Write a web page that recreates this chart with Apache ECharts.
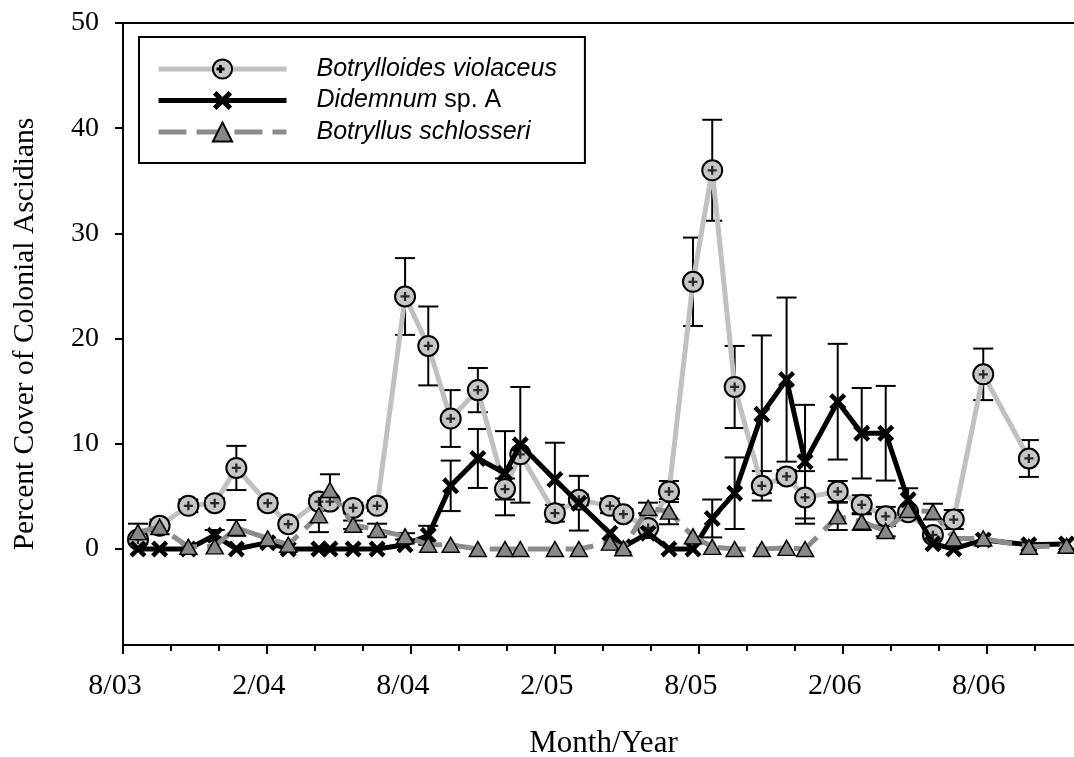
<!DOCTYPE html>
<html><head><meta charset="utf-8">
<script src="https://cdn.jsdelivr.net/npm/echarts@6/dist/echarts.min.js"></script>
<style>html,body{margin:0;padding:0;background:#fff}#c{width:1074px;height:757px}</style>
</head><body><div id="c"></div>
<script>
// Sampling dates (x positions)
const sampleDates = ['2003-08-20','2003-09-17','2003-10-23','2003-11-26','2003-12-23','2004-02-02','2004-02-28','2004-04-06','2004-04-20','2004-05-19','2004-06-19','2004-07-24','2004-08-23','2004-09-21','2004-10-25','2004-11-29','2004-12-18','2005-02-01','2005-03-01','2005-04-10','2005-04-27','2005-05-28','2005-06-24','2005-07-24','2005-08-18','2005-09-16','2005-10-20','2005-11-21','2005-12-14','2006-01-25','2006-02-25','2006-03-25','2006-04-23','2006-05-24','2006-06-20','2006-07-27','2006-09-24','2006-11-11'];
// Percent cover
const botrylloides    = [0.9,2.2,4.1,4.35,7.7,4.35,2.35,4.5,4.5,3.9,4.1,24.0,19.3,12.4,15.1,5.7,9.0,3.4,4.67,4.1,3.3,2.0,5.46,25.4,36.0,15.4,6.0,6.9,4.9,5.46,4.2,3.1,3.5,1.33,2.8,16.6,8.6,null];
const botrylloidesErr = [0.4,0.3,0.6,0.5,2.1,0.5,0.4,0.6,0,0.5,0.5,3.65,3.75,2.7,2.1,1.0,0,0.8,0.5,0.7,0.5,0,1.0,4.2,4.8,3.9,1.4,0.6,2.5,1.0,0.9,0.9,0,0,0.9,2.45,1.75,0];
const didemnum        = [0,0,0,1.3,0,0.6,0,0,0,0,0,0.4,1.3,6.0,8.6,7.2,9.9,6.6,4.35,1.5,0.2,1.5,0,0,2.9,5.3,12.8,16.1,8.3,14.0,11.0,11.0,4.67,0.5,0,0.86,0.4,0.48];
const didemnumErr     = [0,0,0,0.5,0,0,0,0,0,0,0,0,0.9,2.4,2.8,4.0,5.5,3.5,2.6,0,0,0,0,0,1.8,3.4,7.5,7.8,5.4,5.5,4.3,4.5,1.1,0,0,0,0,0];
const botryllus       = [1.6,2.1,0.2,0.25,2.0,1.0,0.4,3.2,5.6,2.3,1.8,1.2,0.4,0.4,0,0,0,0,0,0.6,0.07,3.9,3.55,1.2,0.2,0,0,0.1,0,3.1,2.6,1.7,3.7,3.55,1.0,1.0,0.2,0.3];
const botryllusErr    = [0.8,0.7,0,0,0.75,0,0,1.6,1.5,0.4,0.6,0.3,0,0,0,0,0,0,0,0,0,0.5,1.2,0,0,0,0,0,0,1.3,0.8,0.5,0,0.75,0,0,0,0];
// Axis labels
const xTickLabels = ['8/03','2/04','8/04','2/05','8/05','2/06','8/06'];
const yTicks = [0,10,20,30,40,50];
const seriesNames = ['Botrylloides violaceus','Didemnum sp. A','Botryllus schlosseri'];

function toMonths(s){const p=s.split('-').map(Number);return (p[0]-2003)*12+(p[1]-8)+(p[2]-1)/30.4;}
const xs = sampleDates.map(toMonths);
function pts(vals){const out=[];vals.forEach((v,i)=>{if(v!==null)out.push([xs[i],v]);});return out;}
function errPts(vals,errs){const out=[];vals.forEach((v,i)=>{if(v!==null&&errs[i]>0)out.push([xs[i],v,errs[i]]);});return out;}
function errRender(params, api){
  const x=api.value(0),v=api.value(1),e=api.value(2);
  const t=api.coord([x,v+e]),b=api.coord([x,v-e]);const hw=10;
  const st={stroke:'#000',lineWidth:2};
  return {type:'group',children:[
    {type:'line',shape:{x1:t[0],y1:t[1],x2:b[0],y2:b[1]},style:st},
    {type:'line',shape:{x1:t[0]-hw,y1:t[1],x2:t[0]+hw,y2:t[1]},style:st},
    {type:'line',shape:{x1:b[0]-hw,y1:b[1],x2:b[0]+hw,y2:b[1]},style:st}
  ]};
}
const XMAX = (1074-122.7)/24.0;
const majorTicks = xTickLabels.map((_,i)=>i*6);
const minorTicks = []; for(let m=2;m<XMAX;m+=2){ if(m%6!==0) minorTicks.push(m); }
const plusPath = 'path://M3,0H5V3H8V5H5V8H3V5H0V3H3Z';
const xPath = 'path://M0,3L3,0L8,5L13,0L16,3L11,8L16,13L13,16L8,11L3,16L0,13L5,8Z';
const serif = 'Liberation Serif';

const chart = echarts.init(document.getElementById('c'), null, {renderer:'canvas'});
chart.setOption({
  animation:false,
  backgroundColor:'#fff',
  grid:{left:123,top:23,right:0,bottom:112,containLabel:false,outerBoundsMode:'none'},
  xAxis:[
    {type:'value',min:0,max:XMAX,position:'bottom',
     axisLine:{show:true,onZero:false,lineStyle:{color:'#000',width:2}},
     axisTick:{show:true,customValues:majorTicks,length:9,lineStyle:{color:'#000',width:2}},
     axisLabel:{show:true,customValues:majorTicks,formatter:v=>xTickLabels[Math.round(v/6)]||'',
       fontFamily:serif,fontSize:30,color:'#000',margin:26,padding:[0,16,0,0]},
     splitLine:{show:false},
     name:'Month/Year',nameLocation:'middle',nameGap:83,
     nameTextStyle:{fontFamily:serif,fontSize:31,color:'#000',padding:[0,0,0,10]}},
    {type:'value',min:0,max:XMAX,position:'bottom',
     axisLine:{show:false,onZero:false},axisLabel:{show:false},splitLine:{show:false},
     axisTick:{show:true,customValues:minorTicks,length:6,lineStyle:{color:'#000',width:2}}},
    {type:'value',min:0,max:XMAX,position:'top',
     axisLine:{show:true,onZero:false,lineStyle:{color:'#000',width:2}},axisLabel:{show:false},axisTick:{show:false},splitLine:{show:false}}
  ],
  yAxis:{type:'value',min:-9.13,max:50,
    axisLine:{show:true,onZero:false,lineStyle:{color:'#000',width:2}},
    axisTick:{show:true,customValues:yTicks,length:8,lineStyle:{color:'#000',width:2}},
    axisLabel:{show:true,customValues:yTicks,fontFamily:serif,fontSize:28,color:'#000',margin:24},
    splitLine:{show:false},
    name:'Percent Cover of Colonial Ascidians',nameLocation:'middle',nameGap:83,nameRotate:90,
    nameTextStyle:{fontFamily:serif,fontSize:29.5,color:'#000'}},
  legend:{
    data:seriesNames,orient:'vertical',left:139,top:37,
    itemWidth:128,itemHeight:24,itemGap:3.5,
    borderColor:'#000',borderWidth:2,padding:[18,28,17,17],
    lineStyle:{width:'inherit',type:'inherit'},
    formatter:function(n){ if(n==='Didemnum sp. A') return '{i|Didemnum} {n|sp. A}'; return '{i|'+n+'}'; },
    textStyle:{fontFamily:'Liberation Sans',fontSize:25,color:'#000',lineHeight:28,padding:[0,0,0,25],
      rich:{i:{fontFamily:'Liberation Sans',fontStyle:'italic',fontSize:25,color:'#000'},
            n:{fontFamily:'Liberation Sans',fontStyle:'normal',fontSize:25,color:'#000'}}}
  },
  graphic:[
    {type:'rect',shape:{x:216.5,y:67.5,width:8,height:3},style:{fill:'#000'},z:100},
    {type:'rect',shape:{x:219,y:65,width:3,height:8},style:{fill:'#000'},z:100}
  ],
  series:[
    {type:'custom',name:'errBv',renderItem:errRender,data:errPts(botrylloides,botrylloidesErr),z:1,silent:true},
    {type:'custom',name:'errDid',renderItem:errRender,data:errPts(didemnum,didemnumErr),z:1,silent:true},
    {type:'custom',name:'errBs',renderItem:errRender,data:errPts(botryllus,botryllusErr),z:1,silent:true},
    {type:'line',name:seriesNames[0],data:pts(botrylloides),z:2,
     symbol:'circle',symbolSize:20,showAllSymbol:true,
     itemStyle:{color:'#c6c6c6',borderColor:'#000',borderWidth:2},
     lineStyle:{color:'#c0c0c0',width:5}},
    {type:'scatter',name:'bvPlus',data:pts(botrylloides),z:3,symbol:plusPath,symbolSize:9,silent:true,
     itemStyle:{color:'#000'}},
    {type:'line',name:seriesNames[1],data:pts(didemnum),z:4,
     symbol:xPath,symbolSize:17,showAllSymbol:true,
     itemStyle:{color:'#000'},lineStyle:{color:'#000',width:5}},
    {type:'line',name:seriesNames[2],data:pts(botryllus),z:5,
     symbol:'triangle',symbolSize:[17,15],showAllSymbol:true,
     itemStyle:{color:'#888',borderColor:'#000',borderWidth:1.5},
     lineStyle:{color:'#8c8c8c',width:5,type:[28,10]}}
  ]
});
</script></body></html>
